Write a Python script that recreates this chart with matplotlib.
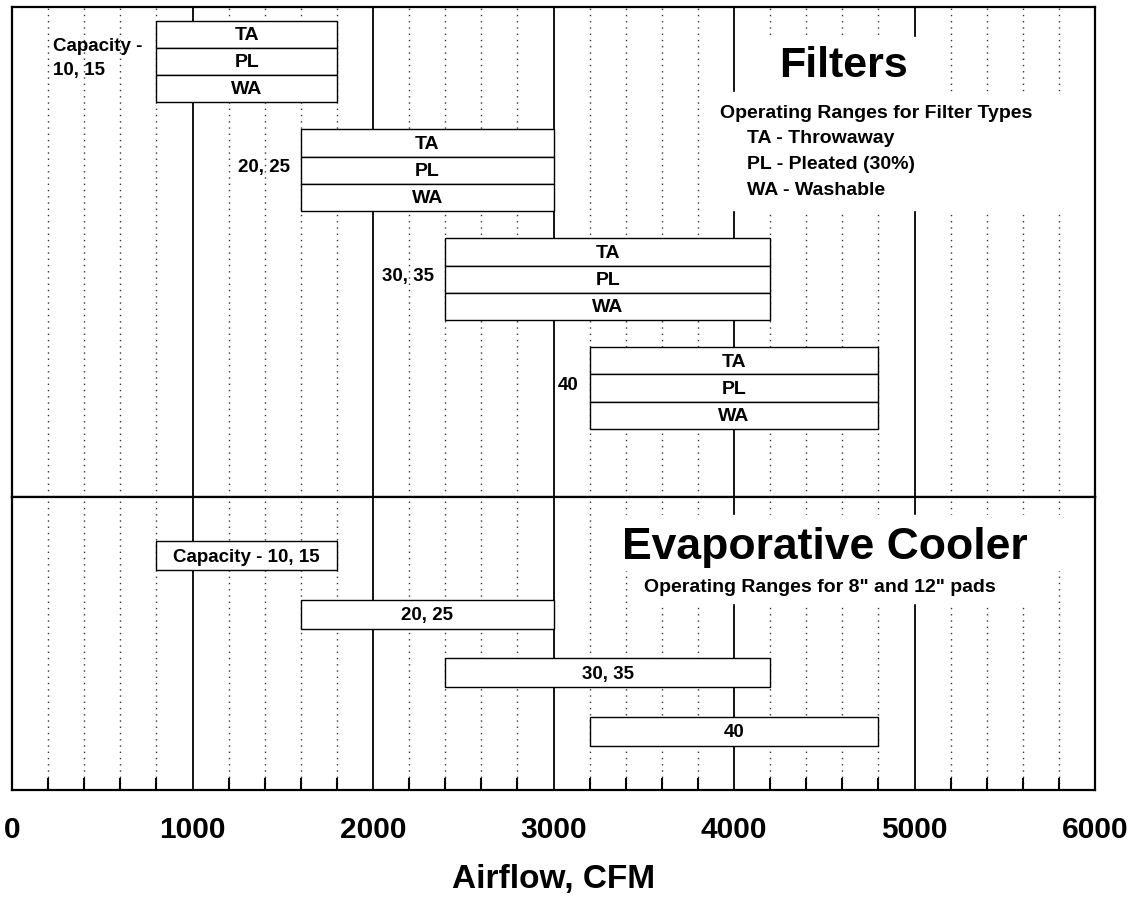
import numpy as np
import matplotlib
matplotlib.use("Agg")
from matplotlib import pyplot as plt
from matplotlib.patches import Rectangle

plt.rcParams['font.family'] = ['Liberation Sans', 'DejaVu Sans']
plt.rcParams['font.weight'] = 'bold'

# filter operating ranges (CFM) per capacity group
filter_groups = ["Capacity -\n10, 15", "20, 25", "30, 35", "40"]
filter_low = [800, 1600, 2400, 3200]
filter_high = [1800, 3000, 4200, 4800]
filter_types = ["TA", "PL", "WA"]
filter_legend = ["TA - Throwaway", "PL - Pleated (30%)", "WA - Washable"]

# evaporative cooler operating ranges (CFM)
cooler_groups = ["Capacity - 10, 15", "20, 25", "30, 35", "40"]
cooler_low = [800, 1600, 2400, 3200]
cooler_high = [1800, 3000, 4200, 4800]

x_major = np.arange(0, 6001, 1000)
x_minor = [v for v in range(200, 6000, 200) if v % 1000 != 0]

fig = plt.figure(figsize=(11.45, 8.98), dpi=100)
ax1 = fig.add_axes([0.0105, 0.4466, 0.9459, 0.5457])
ax2 = fig.add_axes([0.0105, 0.1203, 0.9459, 0.3263])

def grid_lines(ax):
    for v in x_major[1:-1]:
        ax.axvline(v, color='black', lw=1.3, zorder=1)
    for v in x_minor:
        ax.axvline(v, color='#333333', lw=1.0, ls=(0, (1, 3.5)), zorder=1)

for ax in (ax1, ax2):
    ax.set_xlim(0, 6000)
    grid_lines(ax)
    for s in ax.spines.values():
        s.set_linewidth(1.6)
        s.set_zorder(5)
    ax.tick_params(axis='y', left=False, labelleft=False)

# ---- top panel: filters
ax1.set_ylim(18.0, 0)
ax1.tick_params(axis='x', bottom=False, labelbottom=False)
for i, (g, lo, hi) in enumerate(zip(filter_groups, filter_low, filter_high)):
    top = 0.5 + 4 * i
    ys = [top + j + 0.5 for j in range(len(filter_types))]
    ax1.barh(ys, hi - lo, left=lo, height=1.0, color='white',
             edgecolor='black', linewidth=1.0, zorder=3)
    for y, t in zip(ys, filter_types):
        ax1.text((lo + hi) / 2, y + 0.05, t, ha='center', va='center',
                 fontsize=14, zorder=4)
    gap = 80 if i == 0 else 60
    ax1.text(lo - gap, top + 1.4, g, ha='right', va='center',
             multialignment='left', fontsize=13.5, linespacing=1.5, zorder=4)

ax1.add_patch(Rectangle((4061, 1.10), 1025, 2.03, color='white', zorder=2))
ax1.add_patch(Rectangle((3878, 3.13), 2122, 4.33, color='white', zorder=2))
ax1.text(4606, 2.17, "Filters", ha='center', va='center', fontsize=31, zorder=4)
ax1.text(3922, 3.93, "Operating Ranges for Filter Types", ha='left',
         va='center', fontsize=14, zorder=4)
for k, s in enumerate(filter_legend):
    ax1.text(4072, 4.85 + 0.94 * k, s, ha='left', va='center',
             fontsize=14, zorder=4)

# ---- bottom panel: evaporative cooler
ax2.set_ylim(10.0, 0)
for i, (g, lo, hi) in enumerate(zip(cooler_groups, cooler_low, cooler_high)):
    y = 2.0 + 2 * i
    ax2.barh(y, hi - lo, left=lo, height=1.0, color='white',
             edgecolor='black', linewidth=1.0, zorder=3)
    ax2.text((lo + hi) / 2, y + 0.05, g, ha='center', va='center',
             fontsize=13.5, zorder=4)

ax2.add_patch(Rectangle((3368, 0.61), 2466, 1.88, color='white', zorder=2))
ax2.add_patch(Rectangle((3424, 2.49), 2327, 1.13, color='white', zorder=2))
ax2.text(4504, 1.74, "Evaporative Cooler", ha='center', va='center',
         fontsize=32, zorder=4)
ax2.text(4476, 3.1, 'Operating Ranges for 8" and 12" pads', ha='center',
         va='center', fontsize=14, zorder=4)

ax2.set_xticks(x_major)
ax2.set_xticklabels([str(v) for v in x_major], fontsize=21.5)
ax2.set_xticks(x_minor, minor=True)
ax2.tick_params(axis='x', which='major', length=0, pad=19)
ax2.tick_params(axis='x', which='minor', direction='in', length=8.5, width=1.5)
ax2.set_xlabel("Airflow, CFM", fontsize=24, fontweight='bold', labelpad=14)

fig.savefig("out.png", dpi=100)
